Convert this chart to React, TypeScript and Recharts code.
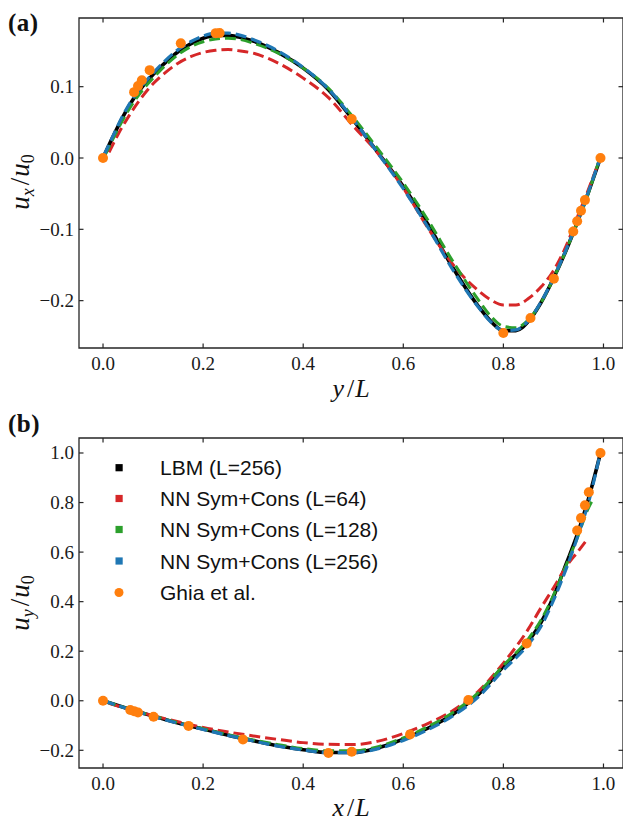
import React from 'react';
import { ComposedChart, Line, Scatter, XAxis, YAxis, ReferenceArea } from 'recharts';

// ---------- ticks / domains ----------
const xTicks = [0, 0.2, 0.4, 0.6, 0.8, 1.0];
const yTicksA = [-0.2, -0.1, 0.0, 0.1];
const yTicksB = [-0.2, 0.0, 0.2, 0.4, 0.6, 0.8, 1.0];
const xDomain: [number, number] = [-0.048, 1.039];
const yDomainA: [number, number] = [-0.2664, 0.1963];
const yDomainB: [number, number] = [-0.2714, 1.0605];

const seriesNames = ['LBM (L=256)', 'NN Sym+Cons (L=64)', 'NN Sym+Cons (L=128)', 'NN Sym+Cons (L=256)', 'Ghia et al.'];
const seriesColors = ['#000000', '#d62728', '#2ca02c', '#1f77b4', '#ff7f0e'];

// ---------- panel (a): u_x vs y/L ----------
const lbmA: [number, number][] = [
  [0, 0], [0.02, 0.030], [0.04, 0.058], [0.06, 0.082], [0.08, 0.101], [0.1, 0.117], [0.125, 0.134],
  [0.15, 0.149], [0.175, 0.160], [0.2, 0.168], [0.225, 0.172], [0.25, 0.172], [0.275, 0.169], [0.3, 0.164],
  [0.35, 0.148], [0.4, 0.126], [0.45, 0.096], [0.5, 0.053], [0.55, 0.007], [0.6, -0.040], [0.65, -0.094],
  [0.7, -0.155], [0.75, -0.208], [0.775, -0.229], [0.8, -0.242], [0.825, -0.242], [0.85, -0.229],
  [0.875, -0.203], [0.9, -0.169], [0.925, -0.130], [0.95, -0.086], [0.97, -0.048], [0.994, 0],
];
const nn64A: [number, number][] = [
  [0.012, 0.008], [0.03, 0.033], [0.05, 0.057], [0.075, 0.083], [0.1, 0.104], [0.125, 0.120], [0.15, 0.133],
  [0.175, 0.142], [0.2, 0.148], [0.225, 0.151], [0.25, 0.152], [0.275, 0.150], [0.3, 0.147], [0.35, 0.133],
  [0.4, 0.112], [0.45, 0.085], [0.5, 0.045], [0.55, 0.006], [0.6, -0.042], [0.65, -0.099], [0.7, -0.150],
  [0.75, -0.186], [0.775, -0.199], [0.8, -0.206], [0.825, -0.206], [0.85, -0.197], [0.875, -0.181],
  [0.9, -0.158], [0.925, -0.124], [0.95, -0.079], [0.97, -0.044], [0.987, -0.012],
];
const nn128A: [number, number][] = [
  [0.004, 0.004], [0.02, 0.027], [0.04, 0.054], [0.06, 0.077], [0.08, 0.096], [0.1, 0.112], [0.125, 0.130],
  [0.15, 0.145], [0.175, 0.156], [0.2, 0.163], [0.225, 0.167], [0.25, 0.168], [0.275, 0.166], [0.3, 0.161],
  [0.35, 0.147], [0.4, 0.126], [0.45, 0.098], [0.5, 0.057], [0.55, 0.012], [0.6, -0.035], [0.65, -0.088],
  [0.7, -0.146], [0.75, -0.199], [0.775, -0.222], [0.8, -0.236], [0.825, -0.238], [0.85, -0.227],
  [0.875, -0.203], [0.9, -0.169], [0.925, -0.130], [0.95, -0.086], [0.97, -0.049], [0.99, -0.006],
];
const nn256A: [number, number][] = [
  [0.002, 0.004], [0.02, 0.031], [0.04, 0.060], [0.06, 0.084], [0.08, 0.103], [0.1, 0.119], [0.125, 0.137],
  [0.15, 0.152], [0.175, 0.163], [0.2, 0.171], [0.225, 0.175], [0.25, 0.175], [0.275, 0.172], [0.3, 0.166],
  [0.35, 0.150], [0.4, 0.127], [0.45, 0.097], [0.5, 0.054], [0.55, 0.006], [0.6, -0.043], [0.65, -0.098],
  [0.7, -0.158], [0.75, -0.209], [0.775, -0.230], [0.8, -0.242], [0.825, -0.241], [0.85, -0.228],
  [0.875, -0.202], [0.9, -0.168], [0.925, -0.129], [0.95, -0.085], [0.97, -0.047], [0.992, -0.003],
];
const ghiaA: [number, number][] = [
  [0, 0], [0.0621, 0.09233], [0.0699, 0.10091], [0.0776, 0.1089], [0.0932, 0.12317], [0.1554, 0.16077],
  [0.2252, 0.17507], [0.233, 0.17527], [0.497, 0.05454], [0.7999, -0.24533], [0.8542, -0.22445],
  [0.9009, -0.16914], [0.9396, -0.10313], [0.9474, -0.08864], [0.9551, -0.07391], [0.963, -0.05906], [0.994, 0],
];

// ---------- panel (b): u_y vs x/L ----------
const lbmB: [number, number][] = [
  [0, 0], [0.05, -0.032], [0.1, -0.062], [0.15, -0.090], [0.2, -0.114], [0.25, -0.139], [0.3, -0.161],
  [0.35, -0.182], [0.4, -0.198], [0.45, -0.209], [0.5, -0.209], [0.55, -0.190], [0.6, -0.155],
  [0.65, -0.110], [0.7, -0.053], [0.75, 0.025], [0.8, 0.138], [0.85, 0.240], [0.875, 0.315], [0.9, 0.420],
  [0.925, 0.550], [0.95, 0.685], [0.97, 0.815], [0.994, 1.0],
];
const nn64B: [number, number][] = [
  [0.012, -0.010], [0.05, -0.033], [0.1, -0.060], [0.15, -0.085], [0.2, -0.108], [0.25, -0.126],
  [0.3, -0.142], [0.35, -0.156], [0.4, -0.169], [0.45, -0.176], [0.5, -0.177], [0.55, -0.163],
  [0.6, -0.132], [0.65, -0.091], [0.7, -0.038], [0.75, 0.038], [0.8, 0.152], [0.85, 0.290], [0.875, 0.375],
  [0.9, 0.455], [0.925, 0.540], [0.95, 0.605], [0.969, 0.656],
];
const nn128B: [number, number][] = [
  [0.004, -0.002], [0.05, -0.032], [0.1, -0.061], [0.15, -0.089], [0.2, -0.113], [0.25, -0.137],
  [0.3, -0.158], [0.35, -0.177], [0.4, -0.193], [0.45, -0.202], [0.5, -0.202], [0.55, -0.185],
  [0.6, -0.150], [0.65, -0.104], [0.7, -0.046], [0.75, 0.033], [0.8, 0.142], [0.85, 0.250], [0.875, 0.325],
  [0.9, 0.425], [0.925, 0.545], [0.95, 0.670], [0.967, 0.765], [0.981, 0.820],
];
const nn256B: [number, number][] = [
  [0.002, -0.001], [0.05, -0.033], [0.1, -0.063], [0.15, -0.091], [0.2, -0.116], [0.25, -0.140],
  [0.3, -0.162], [0.35, -0.183], [0.4, -0.199], [0.45, -0.209], [0.5, -0.209], [0.55, -0.193],
  [0.6, -0.160], [0.65, -0.116], [0.7, -0.060], [0.75, 0.016], [0.8, 0.124], [0.85, 0.228], [0.875, 0.300],
  [0.9, 0.405], [0.925, 0.530], [0.95, 0.672], [0.97, 0.800], [0.992, 0.985],
];
const ghiaB: [number, number][] = [
  [0, 0], [0.0544, -0.03717], [0.0621, -0.04192], [0.0699, -0.04775], [0.101, -0.06434], [0.1709, -0.1015],
  [0.2796, -0.15662], [0.4504, -0.2109], [0.497, -0.20581], [0.6135, -0.13641], [0.73, 0.00332],
  [0.8465, 0.23151], [0.9474, 0.68717], [0.9551, 0.73722], [0.963, 0.78871], [0.9707, 0.84123], [0.994, 1.0],
];

const toPts = (a: [number, number][]) => a.map(([x, u]) => ({ x, u }));

const W = 623;
const H = 411;
const SPINE = '#262626';
const serif = '"Liberation Serif", "Times New Roman", serif';
const tickStyle = { fontFamily: serif, fontSize: 19 };
const fmt = (v: number) => (v < 0 ? '\u2212' : '') + Math.abs(v).toFixed(1);

const makeXTick = (plotTop: number) => (props: any) => {
  const { x, y, payload } = props;
  return (
    <g>
      <line x1={x} x2={x} y1={y} y2={y - 4.5} stroke={SPINE} strokeWidth={1.2} />
      <line x1={x} x2={x} y1={plotTop} y2={plotTop + 4.5} stroke={SPINE} strokeWidth={1.2} />
      <text x={x} y={y + 15} textAnchor="middle" dominantBaseline="central" fill="#1a1a1a" style={tickStyle}>
        {fmt(payload.value)}
      </text>
    </g>
  );
};

const makeYTick = (plotRight: number) => (props: any) => {
  const { x, y, payload } = props;
  return (
    <g>
      <line x1={x} x2={x + 4.5} y1={y} y2={y} stroke={SPINE} strokeWidth={1.2} />
      <line x1={plotRight} x2={plotRight - 4.5} y1={y} y2={y} stroke={SPINE} strokeWidth={1.2} />
      <text x={x - 5} y={y} textAnchor="end" dominantBaseline="central" fill="#1a1a1a" style={tickStyle}>
        {fmt(payload.value)}
      </text>
    </g>
  );
};

type PanelProps = {
  lbm: [number, number][];
  nn64: [number, number][];
  nn128: [number, number][];
  nn256: [number, number][];
  ghia: [number, number][];
  yDomain: [number, number];
  yTicks: number[];
  top: number;
  xAxisHeight: number;
};

const Panel = ({ lbm, nn64, nn128, nn256, ghia, yDomain, yTicks, top, xAxisHeight }: PanelProps) => (
  <ComposedChart width={W} height={H} margin={{ top, right: 0, left: 0, bottom: 0 }}>
    <XAxis
      type="number"
      dataKey="x"
      domain={xDomain}
      ticks={xTicks}
      allowDataOverflow
      height={xAxisHeight}
      axisLine={false}
      tickLine={false}
      tickSize={0}
      tickMargin={0}
      interval={0}
      tick={makeXTick(top)}
    />
    <YAxis
      type="number"
      dataKey="u"
      domain={yDomain}
      ticks={yTicks}
      allowDataOverflow
      width={79}
      axisLine={false}
      tickLine={false}
      tickSize={0}
      tickMargin={0}
      interval={0}
      tick={makeYTick(W)}
    />
    <Line data={toPts(lbm)} dataKey="u" name={seriesNames[0]} type="monotone" stroke={seriesColors[0]} strokeWidth={3.6} dot={false} isAnimationActive={false} />
    <Line data={toPts(nn64)} dataKey="u" name={seriesNames[1]} type="monotone" stroke={seriesColors[1]} strokeWidth={3} strokeDasharray="11 5" dot={false} isAnimationActive={false} />
    <Line data={toPts(nn128)} dataKey="u" name={seriesNames[2]} type="monotone" stroke={seriesColors[2]} strokeWidth={3} strokeDasharray="11 5" dot={false} isAnimationActive={false} />
    <Line data={toPts(nn256)} dataKey="u" name={seriesNames[3]} type="monotone" stroke={seriesColors[3]} strokeWidth={3.2} strokeDasharray="11 5" dot={false} isAnimationActive={false} />
    <Scatter
      data={toPts(ghia)}
      dataKey="u"
      name={seriesNames[4]}
      fill={seriesColors[4]}
      isAnimationActive={false}
      shape={(p: any) => <circle cx={p.cx} cy={p.cy} r={5} fill={seriesColors[4]} />}
    />
    <ReferenceArea
      x1={xDomain[0]}
      x2={xDomain[1]}
      y1={yDomain[0]}
      y2={yDomain[1]}
      fill="none"
      fillOpacity={0}
      stroke={SPINE}
      strokeWidth={1.3}
      ifOverflow="visible"
    />
  </ComposedChart>
);

const legendRows = [467.7, 498.5, 529.5, 561, 592.5];

const Overlay = () => (
  <svg width={W} height={822} style={{ position: 'absolute', left: 0, top: 0, pointerEvents: 'none' }}>
    <text x={8} y={31} fontFamily={serif} fontWeight="bold" fontSize={25} letterSpacing={0.5} fill="#111">(a)</text>
    <text x={8} y={432} fontFamily={serif} fontWeight="bold" fontSize={25} letterSpacing={0.5} fill="#111">(b)</text>

    {/* y labels */}
    <text transform="translate(29,182) rotate(-90)" textAnchor="middle" fontFamily={serif} fontSize={27} fill="#111">
      <tspan fontStyle="italic">u</tspan>
      <tspan fontStyle="italic" fontSize={18} dy={5}>x</tspan>
      <tspan dy={-5} dx={3}>/</tspan>
      <tspan fontStyle="italic" dx={1}>u</tspan>
      <tspan fontSize={18} dy={5}>0</tspan>
    </text>
    <text transform="translate(29,603) rotate(-90)" textAnchor="middle" fontFamily={serif} fontSize={27} fill="#111">
      <tspan fontStyle="italic">u</tspan>
      <tspan fontStyle="italic" fontSize={18} dy={5}>y</tspan>
      <tspan dy={-5} dx={3}>/</tspan>
      <tspan fontStyle="italic" dx={1}>u</tspan>
      <tspan fontSize={18} dy={5}>0</tspan>
    </text>

    {/* x labels */}
    <text x={351} y={397} textAnchor="middle" fontFamily={serif} fontSize={26} fill="#111">
      <tspan fontStyle="italic">y</tspan>
      <tspan dx={3}>/</tspan>
      <tspan fontStyle="italic" dx={1}>L</tspan>
    </text>
    <text x={351} y={816} textAnchor="middle" fontFamily={serif} fontSize={26} fill="#111">
      <tspan fontStyle="italic">x</tspan>
      <tspan dx={3}>/</tspan>
      <tspan fontStyle="italic" dx={1}>L</tspan>
    </text>

    {/* legend */}
    {legendRows.map((ly, i) => (
      <g key={i}>
        {i < 4 ? (
          <rect x={115.5} y={ly - 3.6} width={7.2} height={7.2} fill={seriesColors[i]} />
        ) : (
          <circle cx={119} cy={ly} r={4.5} fill={seriesColors[i]} />
        )}
        <text x={160} y={ly} dominantBaseline="central" fontFamily='"Liberation Sans", Arial, sans-serif' fontSize={21} fill="#111">
          {seriesNames[i]}
        </text>
      </g>
    ))}
  </svg>
);

export default function App() {
  return (
    <div style={{ position: 'absolute', left: 0, top: 0, width: W, height: 822, background: '#fff' }}>
      <div style={{ position: 'absolute', left: 0, top: 0 }}>
        <Panel lbm={lbmA} nn64={nn64A} nn128={nn128A} nn256={nn256A} ghia={ghiaA} yDomain={yDomainA} yTicks={yTicksA} top={18} xAxisHeight={63} />
      </div>
      <div style={{ position: 'absolute', left: 0, top: H }}>
        <Panel lbm={lbmB} nn64={nn64B} nn128={nn128B} nn256={nn256B} ghia={ghiaB} yDomain={yDomainB} yTicks={yTicksB} top={27} xAxisHeight={54} />
      </div>
      <Overlay />
    </div>
  );
}
